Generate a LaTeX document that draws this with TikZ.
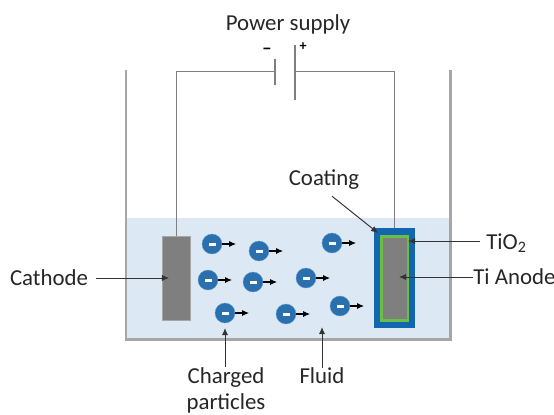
\documentclass[tikz,border=0pt]{standalone}
\usepackage{fontspec}
\setmainfont{Carlito}
\usepackage{xcolor}
\usetikzlibrary{arrows.meta}
\usetikzlibrary{calc}

\definecolor{fluidblue}{HTML}{DCE9F5}
\definecolor{coatblue}{HTML}{1266B0}
\definecolor{ionblue}{HTML}{2A70AE}
\definecolor{oxidegreen}{HTML}{6ABD45}
\definecolor{metalgray}{HTML}{7F7F7F}
\definecolor{tankgray}{HTML}{A6A6A6}

\tikzset{
  wire/.style={draw=metalgray, line width=0.55pt},
  pointer/.style={draw=black!80, line width=0.55pt, -{Latex[length=4pt,width=3.5pt]}},
  ionmove/.style={draw=black, line width=0.7pt, -{Latex[length=4pt,width=3.5pt]}},
  ion/.style={circle, fill=ionblue, draw=ionblue!70, line width=0.2pt, inner sep=0pt, minimum size=0.4cm},
  plate/.style={rectangle, inner sep=0pt, minimum width=#1},
  label/.style={font=\fontsize{13}{14.7}\selectfont, text=black!85, inner sep=0pt}
}

\begin{document}
\begin{tikzpicture}[x=0.02cm,y=-0.02cm]
\useasboundingbox (0,0) rectangle (554,414);

%fluid and tank
\fill[fluidblue] (126,218) rectangle (450,339);
\draw[tankgray, line width=1.7pt] (126,70) -- (126,339) -- (450,339) -- (450,70);

%electrodes
\node[plate=0.56cm, minimum height=1.68cm, fill=metalgray, draw=tankgray, line width=0.3pt] (cathode) at (176,278) {};
\node[plate=0.82cm, minimum height=2cm, fill=coatblue] (coat) at (394.5,278) {};
\node[plate=0.54cm, minimum height=1.68cm, fill=metalgray, draw=oxidegreen, line width=1.7pt] (anode) at (394.5,278.5) {};

%battery
\coordinate (minus) at (275,71);
\coordinate (plus) at (295,71);
\draw[wire] (cathode.north) |- (minus);
\draw[wire] (coat.north) |- (plus);
\draw[metalgray, line width=0.8pt] (275,59) -- (275,85);
\draw[metalgray, line width=0.8pt] (295,45) -- (295,100);
\node[label] (supply) at (288,24) {Power supply};
\node[font=\bfseries\normalsize, inner sep=0pt] (minussign) at (267,51) {\textminus};
\node[font=\bfseries\footnotesize, inner sep=0pt] (plussign) at (303,47) {+};

%charged particles
\foreach \i/\x/\y in {1/212/244, 2/259/251, 3/332/243, 4/208/280, 5/253/282, 6/306/278, 7/225/313, 8/286/314, 9/340/306}
{
  \node[ion] (ion\i) at (\x,\y) {};
  \fill[white] ($(ion\i.center)+(-3.5,-1.5)$) rectangle ($(ion\i.center)+(3.5,1.5)$);
  \coordinate (tip\i) at ($(ion\i.east)+(14,0)$);
  \draw[ionmove] (ion\i.east) -- (tip\i);
}

%labels
\node[label] (cathodetxt) at (49,278) {Cathode};
\node[label] (coating) at (324,180) {Coating};
\node[label, anchor=west] (tio) at (486,243) {TiO\textsubscript{2}};
\node[label, anchor=west] (tianode) at (473,277) {Ti Anode};
\node[label, align=center] (charged) at (226,390) {Charged\\particles};
\node[label] (fluid) at (322,376) {Fluid};

\coordinate (cathodetip) at (169,278);
\coordinate (coattip) at (378,233);
\coordinate (tiotip) at (408,241);
\coordinate (anodetip) at (399,277);
\coordinate (chargedtip) at (225,328);
\coordinate (fluidtip) at (322,327);
\draw[pointer] (cathodetxt.east) ++(8,0) -- (cathodetip);
\draw[pointer] (coating.south) ++(8,6) -- (coattip);
\draw[pointer] (tio.west) ++(-6,-2) -- (tiotip);
\draw[pointer] (tianode.west) -- (anodetip);
\draw[pointer] (charged.north -| chargedtip) -- (chargedtip);
\draw[pointer] (fluid.north) -- (fluidtip);

\end{tikzpicture}
\end{document}
